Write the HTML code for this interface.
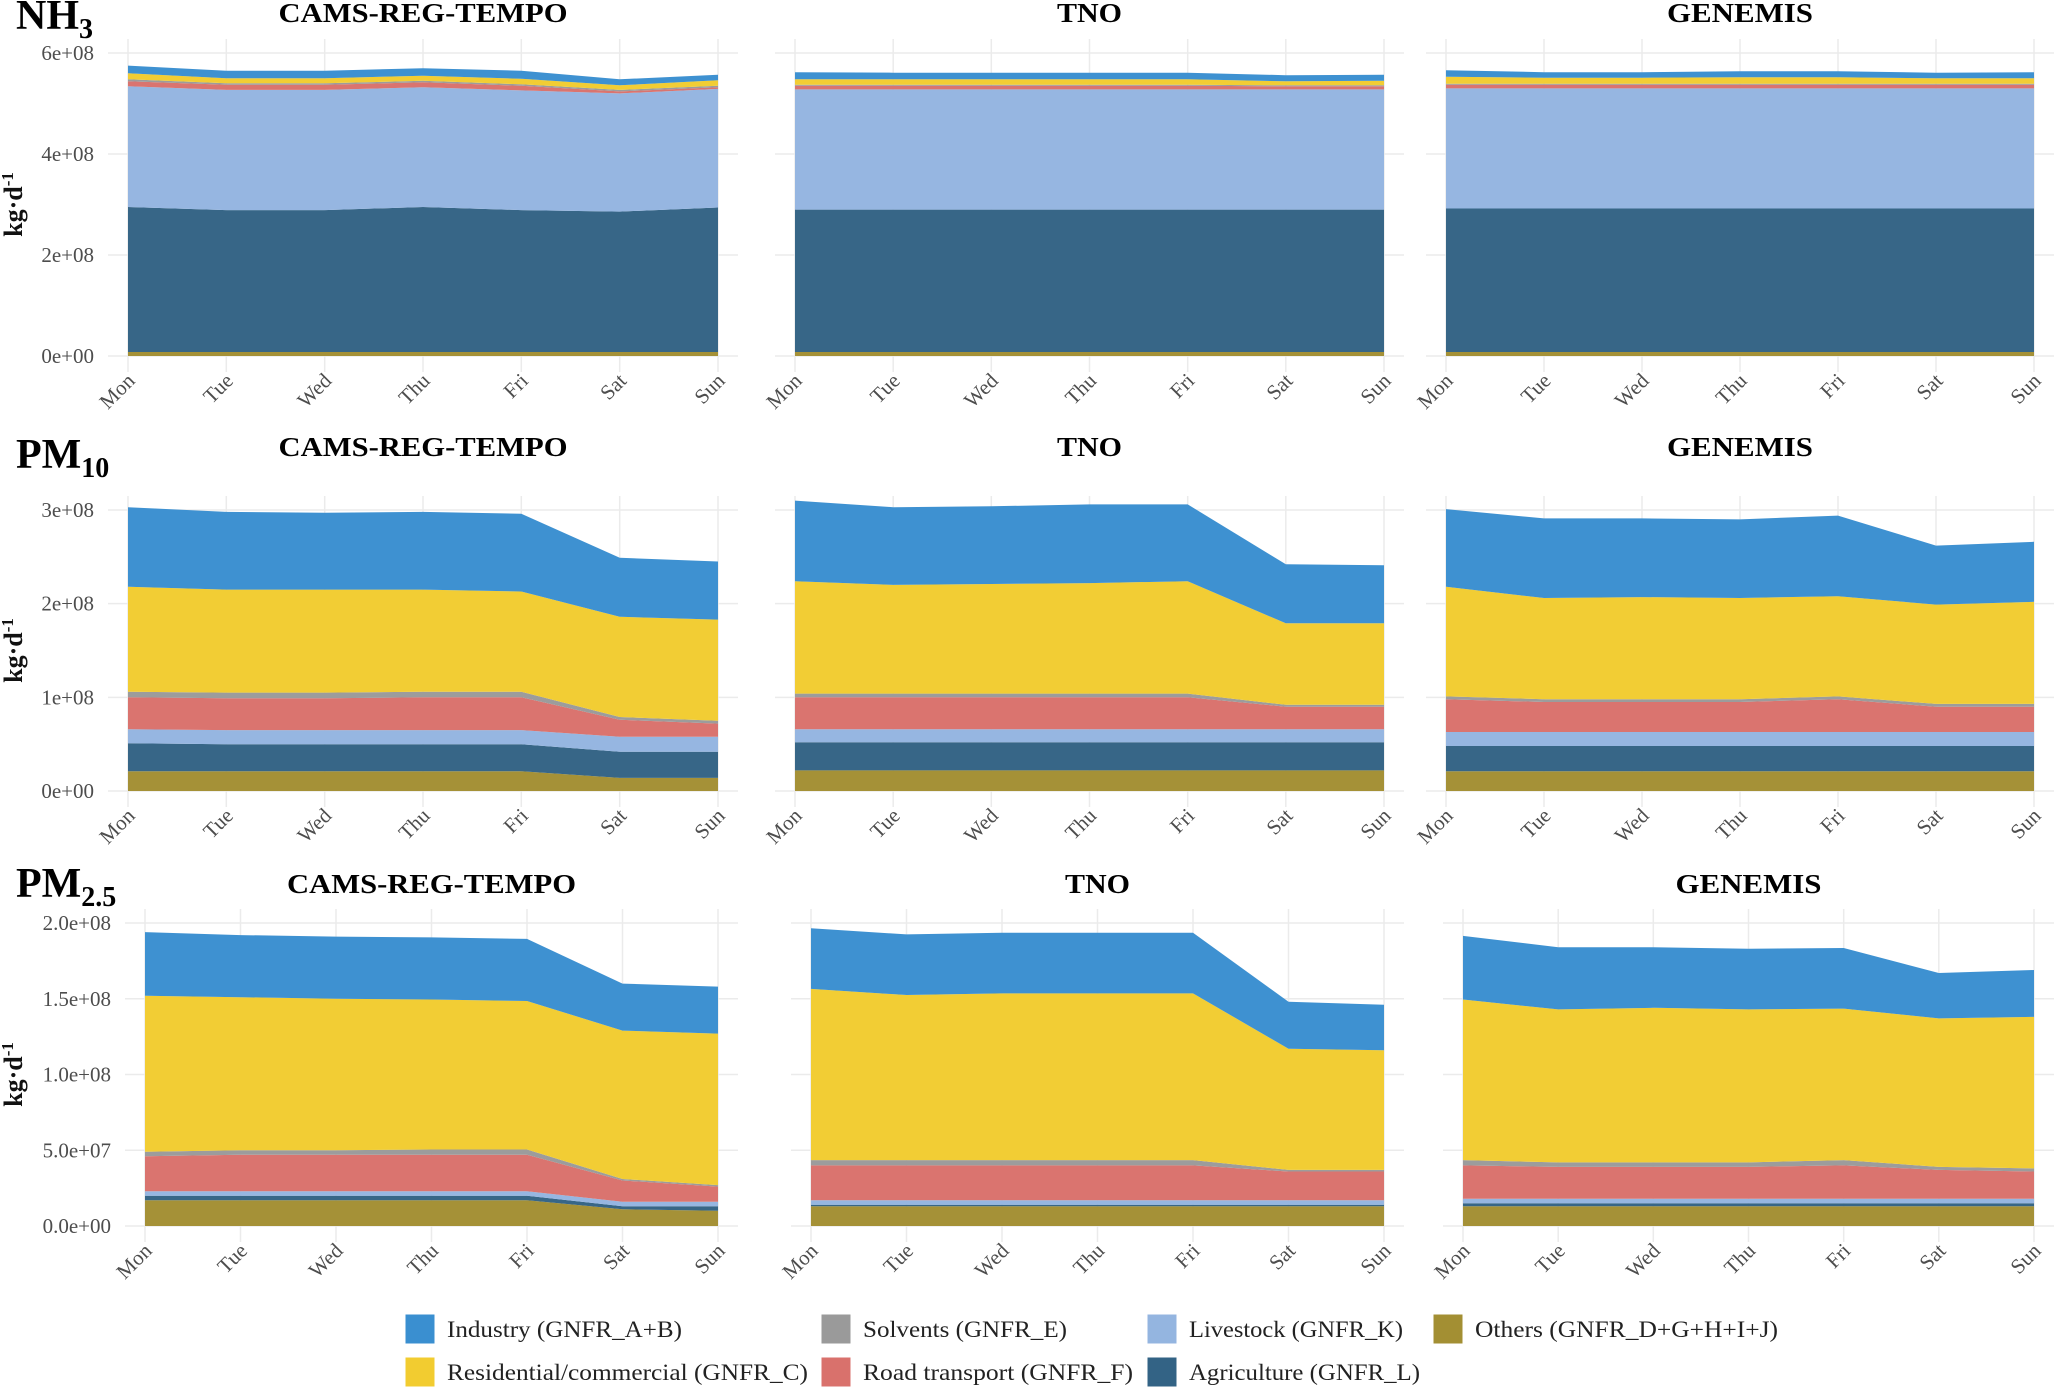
<!DOCTYPE html>
<html><head><meta charset="utf-8"><style>
html,body{margin:0;padding:0;background:#fff;}
svg{display:block;font-family:"Liberation Serif",serif;}
</style></head><body>
<svg id="chart" width="2067" height="1389" viewBox="0 0 2067 1389" xmlns="http://www.w3.org/2000/svg"></svg>
<script>
const days = ["Mon","Tue","Wed","Thu","Fri","Sat","Sun"];
const layerNames = ["Others (GNFR_D+G+H+I+J)","Agriculture (GNFR_L)","Livestock (GNFR_K)","Road transport (GNFR_F)","Solvents (GNFR_E)","Residential/commercial (GNFR_C)","Industry (GNFR_A+B)"];
const layerColors = ["#a38f33","#336385","#94b5e0","#d9716c","#9a9a9a","#f2cc30","#3a8fd0"];
const layerKeys = ["others","agriculture","livestock","road","solvents","residential","industry"];
const modelNames = ["CAMS-REG-TEMPO","TNO","GENEMIS"];

// values in 1e6 kg/day, bottom layer first (others, agri, livestock, road, solvents, residential, industry)
const nh3Cams = [[8,8,8,8,8,8,8],[287,281,281,287,281,278,286],[239,238,238,237,237,234,235],[10,10,10,10,9,4,3],[4,3,3,3,3,3,3],[12,10,10,10,11,9,11],[15,15,15,15,16,12,11]];
const nh3Tno = [[8,8,8,8,8,8,8],[282,282,282,282,282,282,282],[238,238,238,238,238,238,238],[7,7,7,7,7,6,6],[2,2,2,2,2,2,2],[11,11,11,11,11,8,9],[14,13,13,13,13,12,12]];
const nh3Gen = [[8,8,8,8,8,8,8],[284,284,284,284,284,284,284],[238,238,238,238,238,238,238],[7,7,7,7,7,7,7],[2,2,2,2,2,2,2],[14,12,12,13,13,11,11],[13,11,11,12,12,11,12]];
const pm10Cams = [[21,21,21,21,21,14,14],[30,29,29,29,29,28,28],[15,15,15,15,15,16,16],[34,34,34,35,35,18,14],[6,6,6,6,6,3,3],[112,110,110,109,107,107,108],[85,83,82,83,83,63,62]];
const pm10Tno = [[22,22,22,22,22,22,22],[30,30,30,30,30,30,30],[14,14,14,14,14,14,14],[34,34,34,34,34,24,24],[4,4,4,4,4,2,2],[120,116,117,118,120,87,87],[86,83,83,84,82,63,62]];
const pm10Gen = [[21,21,21,21,21,21,21],[27,27,27,27,27,27,27],[15,15,15,15,15,15,15],[35,32,32,32,35,27,27],[3,3,3,3,3,3,3],[117,108,109,108,107,106,109],[83,85,84,84,86,63,64]];
const pm25Cams = [[17,17,17,17,17,11,10],[3,3,3,3,3,2,3],[3,3,3,3,3,3,3],[23,24,24,24,24,14,10],[3,3,3,3.5,3.5,1,1],[103,101,100,99,98,98,100],[42,41,41,41,41,31,31]];
const pm25Tno = [[13,13,13,13,13,13,13],[1,1,1,1,1,1,1],[3,3,3,3,3,3,3],[23,23,23,23,23,19,19],[3.5,3.5,3.5,3.5,3.5,1,1],[113,109,110,110,110,80,79],[40,40,40,40,40,31,30]];
const pm25Gen = [[13,13,13,13,13,13,13],[2,2,2,2,2,2,2],[3,3,3,3,3,3,3],[22,21,21,21,22,19,18],[3.5,3,3,3,3.5,2,2],[106,101,102,101,100,98,100],[42,41,40,40,40,30,31]];

const nh3Ticks = [0,200,400,600];
const nh3TickLabels = ["0e+00","2e+08","4e+08","6e+08"];
const pm10Ticks = [0,100,200,300];
const pm10TickLabels = ["0e+00","1e+08","2e+08","3e+08"];
const pm25Ticks = [0,50,100,150,200];
const pm25TickLabels = ["0.0e+00","5.0e+07","1.0e+08","1.5e+08","2.0e+08"];

const NS="http://www.w3.org/2000/svg";
const svg=document.getElementById('chart');
function mk(tag,attrs,parent){const e=document.createElementNS(NS,tag);for(const k in attrs)e.setAttribute(k,attrs[k]);(parent||svg).appendChild(e);return e;}

const titleWidths=[289,65,146];
const rows=[
 {key:"nh3",label:["NH","3"],data:[nh3Cams,nh3Tno,nh3Gen],ticks:nh3Ticks,tl:nh3TickLabels,max:600,y0:356,y1:53,titleY:22,labelY:29,
  xs:[[128,718],[795,1384],[1446,2034]]},
 {key:"pm10",label:["PM","10"],data:[pm10Cams,pm10Tno,pm10Gen],ticks:pm10Ticks,tl:pm10TickLabels,max:300,y0:791,y1:510,titleY:456,labelY:468,
  xs:[[128,718],[795,1384],[1446,2034]]},
 {key:"pm25",label:["PM","2.5"],data:[pm25Cams,pm25Tno,pm25Gen],ticks:pm25Ticks,tl:pm25TickLabels,max:200,y0:1226,y1:923,titleY:893,labelY:897,
  xs:[[145,718],[811,1384],[1463,2034]]}
];

rows.forEach((row)=>{
  const rl=mk('text',{x:16,y:row.labelY,'font-size':42,'font-weight':'bold',fill:'#000'});
  
  
  rl.textContent=row.label[0];
  const sub=mk('tspan',{'font-size':28,dy:9},rl);sub.textContent=row.label[1];
  const yt=mk('text',{x:0,y:0,'font-size':26,'font-weight':'bold',fill:'#111','text-anchor':'middle',transform:`translate(22,${(row.y0+row.y1)/2}) rotate(-90)`});
  
  
  yt.textContent='kg·d';
  const ys=mk('tspan',{'font-size':17,dy:-9},yt);ys.textContent='-1';
  const yScale=v=>row.y0-(v/row.max)*(row.y0-row.y1);
  row.data.forEach((d,pi)=>{
    const [xa,xb]=row.xs[pi];
    const xScale=i=>xa+i*(xb-xa)/(days.length-1);
    const g=mk('g',{});
    
    
    const gl=xa-20,gr=xb+20,gt=yScale(row.max)-14,gb=row.y0+16;
    row.ticks.forEach((t,ti)=>{
      const ln=mk('line',{x1:gl,x2:gr,y1:yScale(t),y2:yScale(t),stroke:'#ebebeb','stroke-width':1.5},g);
      
      
      if(pi===0){
        const tx=mk('text',{x:gl-14,y:yScale(t)+7,'font-size':21,fill:'#4d4d4d','text-anchor':'end'},g);
        
        
        tx.textContent=row.tl[ti];
      }
    });
    days.forEach((dn,i)=>{
      const ln=mk('line',{x1:xScale(i),x2:xScale(i),y1:gt,y2:gb,stroke:'#ebebeb','stroke-width':1.5},g);
      
      
      const tx=mk('text',{x:0,y:0,'font-size':21,fill:'#4d4d4d','text-anchor':'end',transform:`translate(${xScale(i)+8},${gb+10}) rotate(-45)`},g);
      
      
      tx.textContent=dn;
    });
    const cum=days.map(()=>0);
    d.forEach((series,li)=>{
      const lower=cum.slice();
      series.forEach((v,i)=>cum[i]+=v);
      const pts=[];
      cum.forEach((v,i)=>pts.push(xScale(i).toFixed(1)+','+yScale(v).toFixed(1)));
      for(let i=lower.length-1;i>=0;i--)pts.push(xScale(i).toFixed(1)+','+yScale(lower[i]).toFixed(1));
      const p=mk('polygon',{points:pts.join(' '),fill:layerColors[li],'fill-opacity':0.98},g);
      
      
    });
    const tt=mk('text',{x:(gl+gr)/2,y:row.titleY,'font-size':27,'font-weight':'bold',fill:'#000','text-anchor':'middle',textLength:titleWidths[pi],lengthAdjust:'spacingAndGlyphs'},g);
    
    
    tt.textContent=modelNames[pi];
  });
});

// legend: order as in reference
const legendOrder=[6,4,2,0,5,3,1];
const legendWidths=[235,204,214,303,361,270,231];
const legendX=[405,821,1147,1433];
const legendY=[1329,1372];
const lg=mk('g',{});


legendOrder.forEach((li,k)=>{
  const col=k%4,rw=Math.floor(k/4);
  const x=legendX[col],y=legendY[rw];
  const e=mk('g',{},lg);
  
  
  mk('rect',{x:x,y:y-15,width:30,height:30,fill:layerColors[li],stroke:'#fff','stroke-width':1},e);
  const t=mk('text',{x:x+42,y:y+8,'font-size':23,fill:'#222',textLength:legendWidths[k],lengthAdjust:'spacingAndGlyphs'},e);
  t.textContent=layerNames[li];
});
</script>
</body></html>
